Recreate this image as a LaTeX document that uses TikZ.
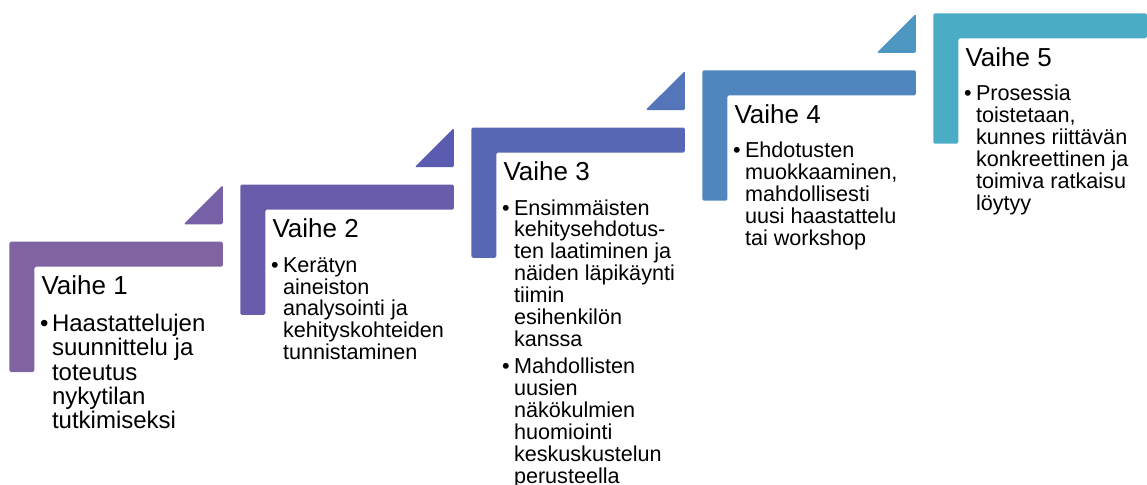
\documentclass[tikz,border=0pt]{standalone}
\usepackage{fontspec}
\setmainfont{Liberation Sans}
\definecolor{c0}{HTML}{8064A2}
\definecolor{c1}{HTML}{7661A7}
\definecolor{c2}{HTML}{695DAB}
\definecolor{c3}{HTML}{5A5BB0}
\definecolor{c4}{HTML}{5767B4}
\definecolor{c5}{HTML}{5475B9}
\definecolor{c6}{HTML}{5185BD}
\definecolor{c7}{HTML}{4E97C2}
\definecolor{c8}{HTML}{4BACC6}
\newcommand{\blkA}[1]{\parbox[t]{230pt}{\fontsize{24}{24.2}\selectfont #1}}
\newcommand{\blkB}[1]{\parbox[t]{230pt}{\fontsize{21.6}{21.9}\selectfont #1}}
\tikzset{
  steptitle/.style={anchor=base west, inner sep=0pt, font=\fontsize{26}{30}\selectfont},
  bodytext/.style={anchor=base west, inner sep=0pt},
  bulA/.style={anchor=base west, inner sep=0pt, font=\fontsize{24}{24}\selectfont},
  bulB/.style={anchor=base west, inner sep=0pt, font=\fontsize{21.6}{21.6}\selectfont},
}
\begin{document}
\begin{tikzpicture}[x=1pt,y=-1pt]
\useasboundingbox (0,0) rectangle (1147,484);
% L-shaped steps
\foreach \i/\bc in {0/c0,1/c2,2/c4,3/c6,4/c8}{
  \pgfmathsetmacro\L{9.3+231*\i}
  \pgfmathsetmacro\T{241.7-57.1*\i}
  \fill[\bc, rounded corners=1.5pt] (\L,\T) -- ++(213.6,0) -- ++(0,25) -- ++(-188.6,0) -- ++(0,105.3) -- ++(-25,0) -- cycle;
}
% small triangles
\foreach \i/\tc in {0/c1,1/c3,2/c5,3/c7}{
  \pgfmathsetmacro\L{9.3+231*\i}
  \pgfmathsetmacro\T{241.7-57.1*\i}
  \fill[\tc, rounded corners=1.5pt] (\L+213.6,\T-56.6) -- (\L+213.6,\T-17.4) -- (\L+174.3,\T-17.4) -- cycle;
}
% Step 1
\node[steptitle] (t1) at (41.3,294.7) {Vaihe 1};
\node[bulA] (u1) at (39.8,331.7) {•};
\node[bodytext] (b1) at (51.8,331.7) {\blkA{Haastattelujen\\suunnittelu ja\\toteutus\\nykytilan\\tutkimiseksi}};
% Step 2
\node[steptitle] (t2) at (272.3,237.6) {Vaihe 2};
\node[bulB] (u2) at (270.8,272.1) {•};
\node[bodytext] (b2) at (282.8,272.1) {\blkB{Kerätyn\\aineiston\\analysointi ja\\kehityskohteiden\\tunnistaminen}};
% Step 3
\node[steptitle] (t3) at (503.3,180.5) {Vaihe 3};
\node[bulB] (u3a) at (501.8,215.0) {•};
\node[bodytext] (b3a) at (513.8,215.0) {\blkB{Ensimmäisten\\kehitysehdotus-\\ten laatiminen ja\\näiden läpikäynti\\tiimin\\esihenkilön\\kanssa}};
\node[bulB] (u3b) at (501.8,373.8) {•};
\node[bodytext] (b3b) at (513.8,373.8) {\blkB{Mahdollisten\\uusien\\näkökulmien\\huomiointi\\keskuskustelun\\perusteella}};
% Step 4
\node[steptitle] (t4) at (734.3,123.4) {Vaihe 4};
\node[bulB] (u4) at (732.8,157.9) {•};
\node[bodytext] (b4) at (744.8,157.9) {\blkB{Ehdotusten\\muokkaaminen,\\mahdollisesti\\uusi haastattelu\\tai workshop}};
% Step 5
\node[steptitle] (t5) at (965.3,66.3) {Vaihe 5};
\node[bulB] (u5) at (963.8,100.8) {•};
\node[bodytext] (b5) at (975.8,100.8) {\blkB{Prosessia\\toistetaan,\\kunnes riittävän\\konkreettinen ja\\toimiva ratkaisu\\löytyy}};
\end{tikzpicture}
\end{document}
